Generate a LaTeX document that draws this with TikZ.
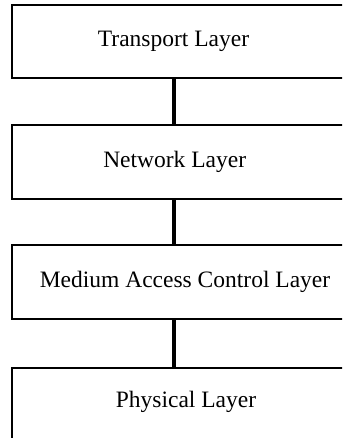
\documentclass[tikz,border=0pt]{standalone}
\usepackage{fontspec}
\setmainfont{Liberation Serif}
\begin{document}
\begin{tikzpicture}[x=1pt,y=1pt,
  layerbox/.style={draw=black, line width=1.6pt, fill=white},
  layertext/.style={font=\fontsize{23.5}{28}\selectfont, inner sep=0pt, anchor=base},
  link/.style={line width=3.2pt, black}]
\useasboundingbox (0,0) rectangle (342,438);
\clip (0,0) rectangle (342,438);
% boxes (y measured from bottom: y = 438 - py)
\node[layerbox, minimum width=340pt, minimum height=73pt, anchor=north west, inner sep=0pt] (b1) at (11,434) {};
\node[layerbox, minimum width=340pt, minimum height=74pt, anchor=north west, inner sep=0pt] (b2) at (11,314) {};
\node[layerbox, minimum width=340pt, minimum height=74pt, anchor=north west, inner sep=0pt] (b3) at (11,194) {};
\node[layerbox, minimum width=340pt, minimum height=72pt, anchor=north west, inner sep=0pt] (b4) at (11,71) {};
% connectors
\draw[link] (b1.south -| 174,0) -- (b2.north -| 174,0);
\draw[link] (b2.south -| 174,0) -- (b3.north -| 174,0);
\draw[link] (b3.south -| 174,0) -- (b4.north -| 174,0);
% texts
\node[layertext] (t1) at (173.5,391) {Transport Layer};
\node[layertext] (t2) at (174.7,270) {Network Layer};
\node[layertext] (t3) at (185,150) {Medium Access Control Layer};
\node[layertext] (t4) at (186,30) {Physical Layer};
\end{tikzpicture}
\end{document}
